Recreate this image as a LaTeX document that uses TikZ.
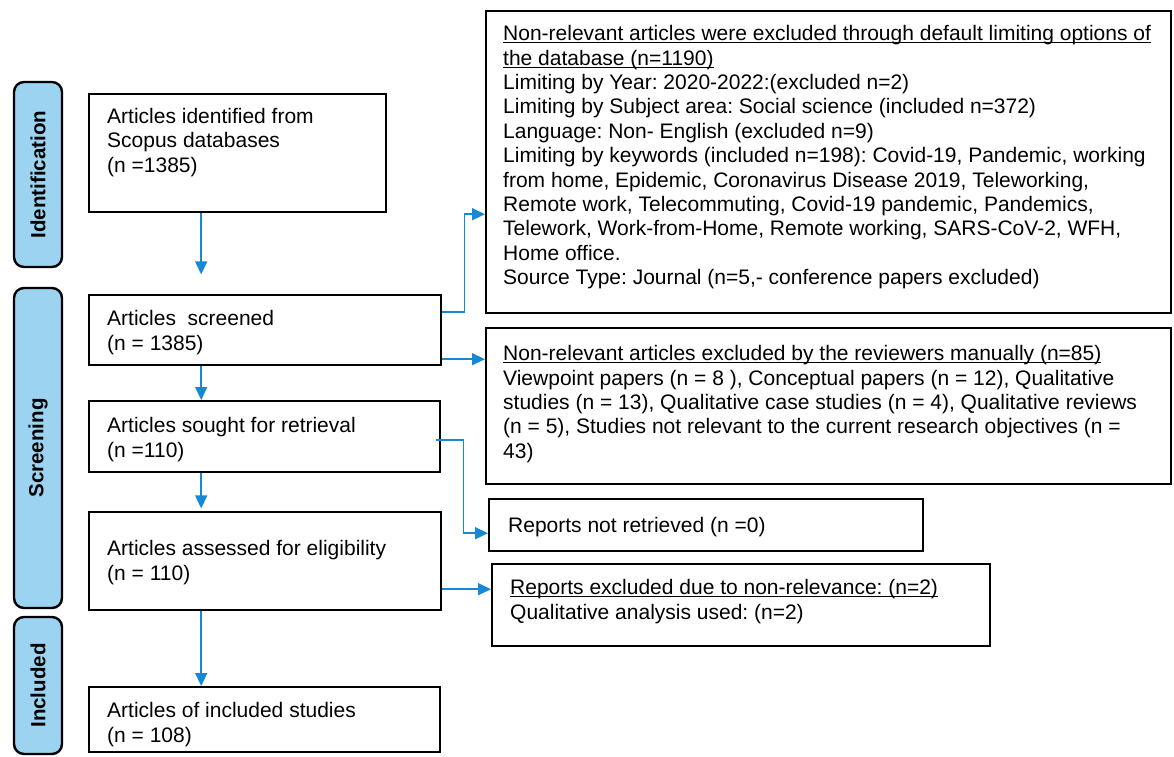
\documentclass[tikz,border=0pt]{standalone}
\usepackage{fontspec}
\setmainfont{Liberation Sans}
\usetikzlibrary{arrows.meta}
\definecolor{flowblue}{RGB}{22,137,214}
\definecolor{labfill}{RGB}{155,211,240}
\frenchspacing
\newcommand\myul[1]{\setbox0\hbox{#1}\makebox[0pt][l]{\rule[-2.6pt]{\wd0}{1pt}}\box0}
\begin{document}
\begin{tikzpicture}[x=1pt,y=-1pt,
  box/.style={draw=black,line width=2.4pt,anchor=north west,inner sep=0pt,fill=white},
  lab/.style={draw=black,line width=2.4pt,fill=labfill,rounded corners=10pt,inner sep=0pt,
    font=\fontsize{20.5}{24}\selectfont\bfseries,rotate=90},
  lt/.style={anchor=north west,inner sep=0pt,align=left,font=\fontsize{21}{24.7}\selectfont},
  rt/.style={anchor=north west,inner sep=0pt,align=left,font=\fontsize{21}{24.4}\selectfont},
  arr/.style={draw=flowblue,line width=1.5pt,-{Triangle[length=13pt,width=12pt]}}]
\useasboundingbox (0,0) rectangle (1174,756);
% stage labels
\node[lab,minimum width=185pt,minimum height=48pt] (lid) at (38,174.5) {Identification};
\node[lab,minimum width=320pt,minimum height=48pt] (lsc) at (38,448) {Screening};
\node[lab,minimum width=137pt,minimum height=48pt] (lin) at (38,685.5) {Included};
% left boxes
\node[box,minimum width=297pt,minimum height=118pt] (b1) at (88,93) {};
\node[box,minimum width=352pt,minimum height=70pt] (b2) at (88,294) {};
\node[box,minimum width=351pt,minimum height=71pt] (b3) at (88,400) {};
\node[box,minimum width=352pt,minimum height=98pt] (b4) at (88,511) {};
\node[box,minimum width=351pt,minimum height=65pt] (b5) at (88,686) {};
\node[lt] (t1) at (107,107.7) {Articles identified from\\Scopus databases\\(n =1385)};
\node[lt] (t2) at (107,310) {Articles\ \ screened\\(n = 1385)};
\node[lt] (t3) at (107,417) {Articles sought for retrieval\\(n =110)};
\node[lt] (t4) at (107,540) {Articles assessed for eligibility\\(n = 110)};
\node[lt] (t5) at (107,702) {Articles of included studies\\(n = 108)};
% right boxes
\node[box,minimum width=685pt,minimum height=302pt] (r1) at (485,10) {};
\node[box,minimum width=685pt,minimum height=156pt] (r2) at (485,327) {};
\node[box,minimum width=434pt,minimum height=52pt] (r3) at (488,498) {};
\node[box,minimum width=498pt,minimum height=82pt] (r4) at (491,563) {};
\node[rt] (s1) at (503,25.2) {\myul{Non-relevant articles were excluded through default limiting options of}\\
\myul{the database (n=1190)}\\
Limiting by Year: 2020-2022:(excluded n=2)\\
Limiting by Subject area: Social science (included n=372)\\
Language: Non- English (excluded n=9)\\
Limiting by keywords (included n=198): Covid-19, Pandemic, working\\
from home, Epidemic, Coronavirus Disease 2019, Teleworking,\\
Remote work, Telecommuting, Covid-19 pandemic, Pandemics,\\
Telework, Work-from-Home, Remote working, SARS-CoV-2, WFH,\\
Home office.\\
Source Type: Journal (n=5,- conference papers excluded)};
\node[rt] (s2) at (503,345.2) {\myul{Non-relevant articles excluded by the reviewers manually (n=85)}\\
Viewpoint papers (n = 8 ), Conceptual papers (n = 12), Qualitative\\
studies (n = 13), Qualitative case studies (n = 4), Qualitative reviews\\
(n = 5), Studies not relevant to the current research objectives (n =\\
43)};
\node[rt] (s3) at (508,517.2) {Reports not retrieved (n =0)};
\node[rt] (s4) at (510,579.2) {\myul{Reports excluded due to non-relevance: (n=2)}\\
Qualitative analysis used: (n=2)};
% connectors
\draw[arr] ([xshift=-36.5pt]b1.south) -- ++(0,61);
\draw[arr] ([xshift=-64pt]b2.south) -- ([xshift=-63.5pt]b3.north);
\draw[arr] ([xshift=-63.5pt]b3.south) -- ++(0,35);
\draw[arr] ([xshift=-64pt]b4.south) -- ([xshift=-63.5pt]b5.north);
\draw[arr] ([yshift=18pt]b2.east) -- ++(22,0) |- ([yshift=-52pt]r1.west);
\draw[arr] ([yshift=-29pt]b2.east) -- ([yshift=47pt]r2.west);
\draw[arr] ([xshift=-5pt,yshift=-3.5pt]b3.east) -- ++(27,0) |- ([yshift=-8pt]r3.west);
\draw[arr] ([yshift=-28pt]b4.east) -- ([yshift=16pt]r4.west);
\end{tikzpicture}
\end{document}
